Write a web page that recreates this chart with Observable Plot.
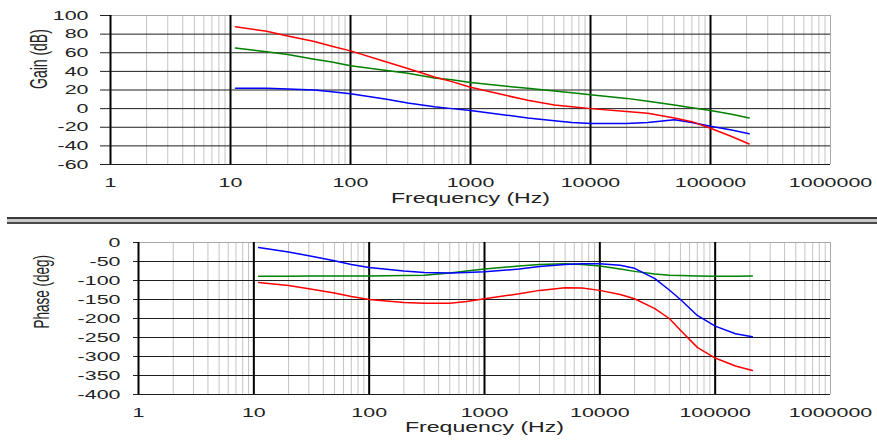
<!DOCTYPE html>
<html><head><meta charset="utf-8">
<script src="https://cdn.jsdelivr.net/npm/d3@7"></script>
<script src="https://cdn.jsdelivr.net/npm/@observablehq/plot@0.6"></script>
<style>
body{margin:0;background:#fff;}
#wrap{position:relative;width:877px;height:441px;overflow:hidden;background:#fff;}
#topChart{position:absolute;left:0;top:0;}
#botChart{position:absolute;left:0;top:226px;}
#sep{position:absolute;left:7px;top:217px;width:870px;height:3px;border-top:2px solid #3a3a3a;border-bottom:2px solid #4a4a4a;background:#c8c8c8;}
</style></head><body>
<div id="wrap"><div id="topChart"></div><div id="sep"></div><div id="botChart"></div></div>
<script>
// ---- data ----
const xTicks = [1, 10, 100, 1000, 10000, 100000, 1000000];
const gainTicks = [-60, -40, -20, 0, 20, 40, 60, 80, 100];
const phaseTicks = [-400, -350, -300, -250, -200, -150, -100, -50, 0];

const gainFreq = [11, 20, 30, 50, 70, 100, 200, 300, 500, 700, 1000, 2000, 3000, 5000, 7000, 10000, 20000, 30000, 50000, 70000, 100000, 150000, 210000];
const gainRed   = [88, 83, 78, 72, 67, 62, 50, 43, 34, 29, 23, 14, 9, 4, 2, 0, -3, -5, -10, -14, -21, -30, -38];
const gainGreen = [65, 61, 58, 53, 50, 46, 41, 38, 33, 31, 28, 24, 22, 19, 17, 15, 11, 8, 4, 1, -2, -6, -10];
const gainBlue  = [22, 22, 21, 20, 18, 16, 10, 6, 2, 0, -2, -7, -10, -13, -15, -16, -16, -15, -12, -15, -19, -23, -27];

const phaseFreq = [11, 20, 30, 50, 70, 100, 200, 300, 500, 700, 1000, 2000, 3000, 5000, 7000, 10000, 15000, 20000, 30000, 40000, 50000, 70000, 100000, 150000, 210000];
const phaseRed   = [-105, -113, -122, -133, -142, -150, -158, -160, -160, -155, -148, -135, -126, -119, -120, -126, -137, -148, -174, -200, -231, -276, -304, -325, -337];
const phaseGreen = [-89, -89, -88, -88, -88, -88, -87, -86, -80, -75, -70, -62, -58, -56, -58, -62, -70, -76, -83, -86, -87, -88, -89, -89, -88];
const phaseBlue  = [-13, -25, -35, -48, -58, -66, -75, -79, -80, -79, -77, -70, -63, -58, -56, -56, -60, -68, -95, -125, -150, -192, -220, -240, -248];

const FONT = '"Liberation Sans", Arial, sans-serif';
const STRETCH = 1.65;

const minorFreqs = [];
for (let d = 1; d < 1e6; d *= 10) for (let m = 2; m <= 9; m++) minorFreqs.push(d * m);
const innerDecades = xTicks.slice(1, -1);

function chart(o) {
  const lines = o.series.map(s => Plot.line(o.freq.map((f, i) => ({f, v: s.values[i]})),
    {x: "f", y: "v", stroke: s.color, strokeWidth: 1.5}));
  const yt = o.yTicks;
  return Plot.plot({
    width: 877, height: o.height,
    marginLeft: o.marginLeft, marginRight: 47, marginTop: o.marginTop, marginBottom: o.marginBottom,
    style: {fontFamily: FONT, fontSize: "13px", color: "#222", background: "#fff", overflow: "visible"},
    x: {type: "log", domain: [1, 1e6], ticks: xTicks, tickFormat: d => String(d), tickSize: 0, tickPadding: 13, label: null},
    y: {domain: [yt[0], yt[yt.length - 1]], ticks: yt, tickFormat: d => String(d), tickSize: o.tickSize, tickPadding: o.tickPadding, label: null},
    marks: [
      Plot.ruleX(minorFreqs, {stroke: "#c4c4c4", strokeWidth: 1}),
      Plot.ruleY([yt[yt.length - 1]], {stroke: "#a8a8a8", strokeWidth: 1}),
      Plot.ruleX([1e6], {stroke: "#a8a8a8", strokeWidth: 1}),
      Plot.ruleY(yt.slice(0, -1), {stroke: "#1e1e1e", strokeWidth: 1}),
      Plot.ruleX(innerDecades, {stroke: "#000", strokeWidth: 2}),
      Plot.ruleX([1], {stroke: "#000", strokeWidth: 2}),
      ...lines,
      Plot.text([o.ylabel], {text: d => d, frameAnchor: "left", rotate: -90, dx: o.ylabelDx, dy: o.ylabelDy, fontSize: o.ylabelSize, fill: "#222"}),
      Plot.text(["Frequency (Hz)"], {text: d => d, frameAnchor: "bottom", dy: o.xlabelDy, fontSize: 14, fill: "#222"})
    ]
  });
}

function stretch(svg, k) {
  const sr = svg.getBoundingClientRect();
  svg.querySelectorAll("text").forEach(t => {
    const r = t.getBoundingClientRect();
    const anchor = getComputedStyle(t).textAnchor;
    const rotated = (t.getAttribute("transform") || "").includes("rotate");
    let ax = rotated || anchor === "middle" ? (r.left + r.right) / 2 : anchor === "end" ? r.right : r.left;
    ax -= sr.left;
    const ctm = t.parentNode.getCTM();
    const lx = ax - (ctm ? ctm.e : 0);
    const g = document.createElementNS("http://www.w3.org/2000/svg", "g");
    g.setAttribute("transform", `translate(${lx},0) scale(${k},1) translate(${-lx},0)`);
    t.parentNode.insertBefore(g, t);
    g.appendChild(t);
  });
}

const gainChart = chart({
  freq: gainFreq,
  series: [{values: gainGreen, color: "#008000"}, {values: gainBlue, color: "#0000ff"}, {values: gainRed, color: "#ff0000"}],
  yTicks: gainTicks, height: 212, marginLeft: 110, marginTop: 15, marginBottom: 48,
  tickSize: 10, tickPadding: 12, ylabel: "Gain (dB)", ylabelDx: -71, ylabelDy: -1, ylabelSize: 14, xlabelDy: 38
});
document.getElementById("topChart").appendChild(gainChart);
stretch(gainChart, STRETCH);

const phaseChart = chart({
  freq: phaseFreq,
  series: [{values: phaseGreen, color: "#008000"}, {values: phaseBlue, color: "#0000ff"}, {values: phaseRed, color: "#ff0000"}],
  yTicks: phaseTicks, height: 215, marginLeft: 138, marginTop: 16, marginBottom: 47,
  tickSize: 5, tickPadding: 13, ylabel: "Phase (deg)", ylabelDx: -97, ylabelDy: 10, ylabelSize: 13.5, xlabelDy: 37
});
document.getElementById("botChart").appendChild(phaseChart);
stretch(phaseChart, STRETCH);
</script>
</body></html>
